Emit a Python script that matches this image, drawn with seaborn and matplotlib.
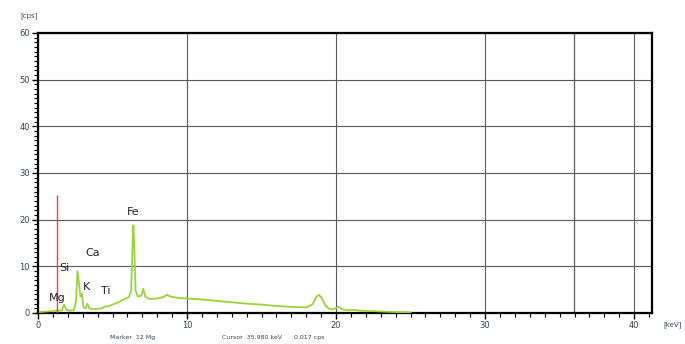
import matplotlib
matplotlib.use("Agg")
import matplotlib.pyplot as plt
import seaborn as sns
import pandas as pd
from matplotlib.ticker import MultipleLocator

energy_kev = [0.1, 0.5, 1.0, 1.2, 1.25, 1.4, 1.6, 1.74, 1.9, 2.1, 2.4, 2.55, 2.65, 2.75, 2.85, 2.95,
              3.05, 3.2, 3.31, 3.45, 3.7, 4.0, 4.3, 4.5, 4.7, 5.0, 5.4, 5.8, 6.1, 6.25, 6.35, 6.4,
              6.45, 6.55, 6.7, 6.95, 7.06, 7.2, 7.5, 8.0, 8.4, 8.65, 8.9, 9.5, 10, 11, 12, 13, 14,
              15, 16, 17, 18, 18.4, 18.7, 18.85, 19.0, 19.3, 19.6, 19.9, 20.15, 20.4, 20.8, 21.2,
              21.6, 22.5, 23.5, 25]
counts_cps = [0.2, 0.3, 0.4, 0.5, 0.6, 0.5, 0.6, 1.8, 0.7, 0.5, 0.6, 2.5, 9.0, 6.5, 3.5, 4.2,
              1.2, 1.0, 2.0, 1.0, 0.8, 0.9, 1.0, 1.4, 1.4, 1.8, 2.3, 3.0, 3.4, 4.8, 15.0, 18.8,
              15.0, 4.8, 3.5, 3.8, 5.2, 3.5, 3.0, 3.1, 3.4, 3.9, 3.5, 3.2, 3.1, 2.9, 2.6, 2.3, 2.0,
              1.8, 1.5, 1.3, 1.2, 1.8, 3.5, 3.9, 3.4, 1.5, 0.8, 0.9, 1.35, 0.8, 0.6, 0.7,
              0.5, 0.4, 0.25, 0.15]

element_labels = ["Mg", "Si", "K", "Ca", "Ti", "Fe"]
label_x = [1.28, 1.75, 3.25, 3.7, 4.55, 6.4]
label_y = [3.3, 9.6, 5.5, 12.9, 4.7, 21.7]

marker_energy = 1.25
marker_height = 25.3
cursor_energy = 35.98

sns.set_style("white")
plt.rcParams['font.family'] = ['DejaVu Sans']

fig = plt.figure(figsize=(6.85, 3.44), dpi=100)
ax = fig.add_axes([38/685, 31/344, (652-38)/685, (313-33)/344])

df = pd.DataFrame({"energy": energy_kev, "cps": counts_cps})
sns.lineplot(data=df, x="energy", y="cps", ax=ax, color="#9ad43c", linewidth=1.3, zorder=3)

ax.set_xlim(0, 41.2)
ax.set_ylim(0, 60)
ax.xaxis.set_major_locator(MultipleLocator(10))
ax.xaxis.set_minor_locator(MultipleLocator(1))
ax.yaxis.set_major_locator(MultipleLocator(10))
ax.yaxis.set_minor_locator(MultipleLocator(1))
ax.grid(True, which="major", color="#5a5a5a", linewidth=0.8)
ax.axvline(cursor_energy, color="#5a5a5a", linewidth=0.9, zorder=2)
ax.vlines(marker_energy, 0, marker_height, color="#ff3b3b", linewidth=1.0, zorder=4)

for s in ax.spines.values():
    s.set_color("black")
    s.set_linewidth(1.6)
    s.set_visible(True)

ax.tick_params(axis="both", which="both", bottom=True, left=True, top=False, right=False)
ax.tick_params(axis="both", which="major", direction="out", length=4, width=1.0,
               labelsize=6, colors="black", labelcolor="#3a3f55", pad=2)
ax.tick_params(axis="both", which="minor", direction="out", length=3, width=0.8, colors="black")
ax.set_xlabel("")
ax.set_ylabel("")

for lab, lx, ly in zip(element_labels, label_x, label_y):
    ax.text(lx, ly, lab, fontsize=8, ha="center", va="center", color="#222222", zorder=5)

fig.text(29/685, 1 - 16/344, "[cps]", fontsize=5, ha="center", va="center", color="#3a3f55")
fig.text(673/685, 1 - 325/344, "[keV]", fontsize=5, ha="center", va="center", color="#3a3f55")
fig.text(110/685, 1 - 338/344, "Marker  12 Mg", fontsize=4.5, ha="left", va="center", color="#3a3f55")
fig.text(222/685, 1 - 338/344, "Cursor  35.980 keV      0.017 cps", fontsize=4.5, ha="left",
         va="center", color="#3a3f55")

fig.savefig("out.png", dpi=100, facecolor="white")
